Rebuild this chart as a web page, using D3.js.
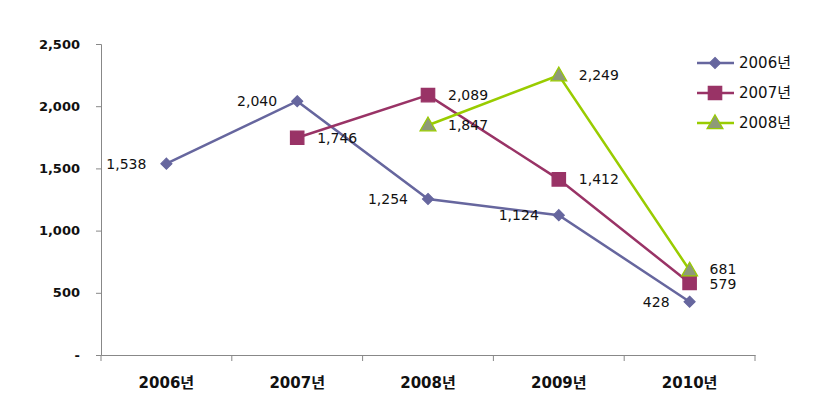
<!DOCTYPE html>
<html><head><meta charset="utf-8">
<script src="https://cdn.jsdelivr.net/npm/d3@7"></script>
<style>body{margin:0;background:#fff}</style>
</head><body>
<svg id="c" width="818" height="401"></svg>
<script>
const categories = ["2006년","2007년","2008년","2009년","2010년"];
const seriesNames = ["2006년","2007년","2008년"];
const s2006 = [1538, 2040, 1254, 1124, 428];
const s2007 = [null, 1746, 2089, 1412, 579];
const s2008 = [null, null, 1847, 2249, 681];
const yTicks = [0, 500, 1000, 1500, 2000, 2500];
// label side: -1 left, 1 right
const side2006 = [-1, -1, -1, -1, -1];
const side2007 = [0, 1, 1, 1, 1];
const side2008 = [0, 0, 1, 1, 1];

const svg = d3.select("#c");
const x = d3.scaleBand().domain(categories).range([101, 755]);
const y = d3.scaleLinear().domain([0, 2500]).range([355, 44]);
const fmt = d3.format(",");
const axisColor = "#888";
const latin = "Verdana, 'DejaVu Sans', 'Noto Sans CJK KR', sans-serif";

// y axis
const ya = svg.append("g").attr("transform","translate(101,0)")
  .call(d3.axisLeft(y).tickValues(yTicks).tickSize(5).tickPadding(16)
    .tickFormat(d => d === 0 ? "-" : fmt(d)));
ya.select(".domain").attr("stroke", axisColor);
ya.selectAll(".tick line").attr("stroke", axisColor);
ya.selectAll("text").attr("font-family", latin)
  .attr("font-size", 13).attr("font-weight","bold").attr("fill","#111");

// x axis
const xa = svg.append("g").attr("transform","translate(0,355)")
  .call(d3.axisBottom(x).tickSize(0).tickPadding(22));
xa.select(".domain").attr("stroke", axisColor);
xa.selectAll("text").attr("font-family", latin)
  .attr("font-size", 15).attr("font-weight","bold").attr("fill","#111");
const edges = categories.map(c => x(c)).concat([x.range()[1]]);
svg.append("g").selectAll("line").data(edges).join("line")
  .attr("x1", d => d).attr("x2", d => d).attr("y1", 355).attr("y2", 361)
  .attr("stroke", axisColor);

const cx = c => x(c) + x.bandwidth() / 2;

// square diamond (rotated square)
const diamondSym = { draw(ctx, size) { const r = Math.sqrt(size / 2);
  ctx.moveTo(0, -r); ctx.lineTo(r, 0); ctx.lineTo(0, r); ctx.lineTo(-r, 0); ctx.closePath(); } };

const series = [
  {name: seriesNames[0], vals: s2006, side: side2006, color: "#66669E", fill: "#66669E", stroke: "#66669E", shape: diamondSym, size: 60, dy: 0},
  {name: seriesNames[1], vals: s2007, side: side2007, color: "#993366", fill: "#993366", stroke: "#993366", shape: d3.symbolSquare, size: 180, dy: 0},
  {name: seriesNames[2], vals: s2008, side: side2008, color: "#99CC00", fill: "#8E9A78", stroke: "#99CC00", shape: d3.symbolTriangle, size: 110, dy: 1},
];
const labelNudge = {681: -1, 579: 1};

const line = d3.line().defined(d => d.v != null).x(d => cx(d.c)).y(d => y(d.v));

series.forEach(s => {
  const pts = categories.map((c, i) => ({c, v: s.vals[i], side: s.side[i]}));
  svg.append("path").datum(pts).attr("d", line).attr("fill","none")
    .attr("stroke", s.color).attr("stroke-width", 2.5);
  svg.append("g").selectAll("path").data(pts.filter(d => d.v != null)).join("path")
    .attr("d", d3.symbol().type(s.shape).size(s.size))
    .attr("transform", d => `translate(${cx(d.c)},${y(d.v) + s.dy})`)
    .attr("fill", s.fill).attr("stroke", s.stroke).attr("stroke-width", 1.2);
  svg.append("g").selectAll("text").data(pts.filter(d => d.v != null)).join("text")
    .attr("x", d => cx(d.c) + d.side * 20)
    .attr("y", d => y(d.v) + (labelNudge[d.v] || 0))
    .attr("dy", "0.36em")
    .attr("text-anchor", d => d.side < 0 ? "end" : "start")
    .attr("font-family", latin)
    .attr("font-size", 14).attr("fill","#111")
    .text(d => fmt(d.v));
});

// legend
const lg = svg.append("g");
series.forEach((s, i) => {
  const ly = 63 + i * 30;
  lg.append("line").attr("x1", 697).attr("x2", 734).attr("y1", ly).attr("y2", ly)
    .attr("stroke", s.color).attr("stroke-width", 2.5);
  lg.append("path").attr("d", d3.symbol().type(s.shape).size(s.size))
    .attr("transform", `translate(715,${ly + s.dy})`)
    .attr("fill", s.fill).attr("stroke", s.stroke).attr("stroke-width", 1.2);
  lg.append("text").attr("x", 739).attr("y", ly).attr("dy","0.36em")
    .attr("font-family", latin).attr("font-size", 15)
    .attr("fill","#111").text(s.name);
});
</script>
</body></html>
